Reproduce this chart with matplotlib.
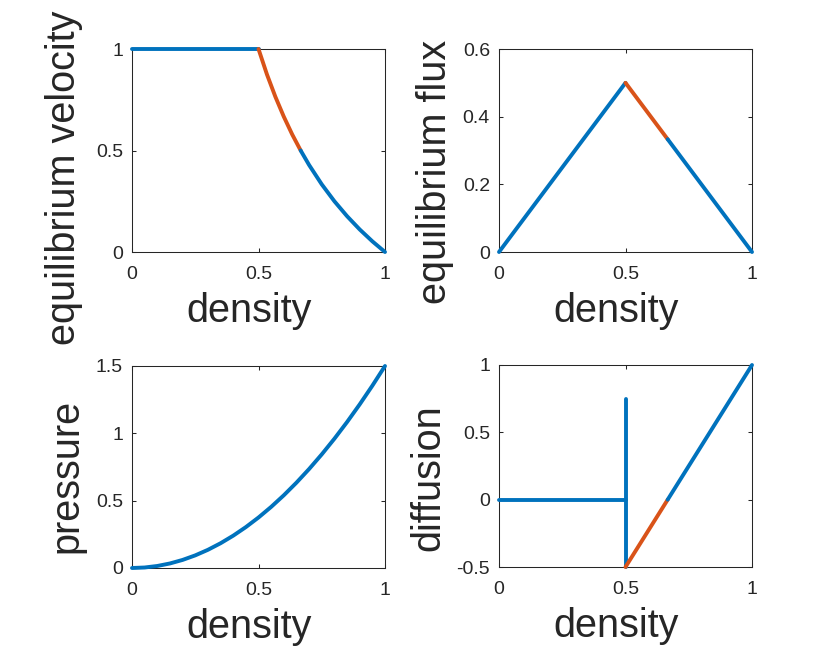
import matplotlib
matplotlib.use("Agg")
import matplotlib.pyplot as plt

plt.rcParams['font.family'] = ['Liberation Sans', 'DejaVu Sans']

BLUE = '#0072BD'
ORANGE = '#D95319'
DARK = '#262626'

# ---- data ----
vel_flat_x = [0.0, 0.5]
vel_flat_y = [1.0, 1.0]
vel_orange_x = [0.5, 0.5333, 0.5667, 0.6, 0.6333, 0.6667]
vel_orange_y = [1.0, 0.875, 0.7647, 0.6667, 0.5789, 0.5]
vel_tail_x = [0.6667, 0.7, 0.75, 0.8, 0.85, 0.9, 0.95, 1.0]
vel_tail_y = [0.5, 0.4286, 0.3333, 0.25, 0.1765, 0.1111, 0.0526, 0.0]

flux_up_x = [0.0, 0.5]
flux_up_y = [0.0, 0.5]
flux_orange_x = [0.5, 0.6667]
flux_orange_y = [0.5, 0.3333]
flux_down_x = [0.6667, 1.0]
flux_down_y = [0.3333, 0.0]

pres_x = [0.0, 0.05, 0.1, 0.15, 0.2, 0.25, 0.3, 0.35, 0.4, 0.45, 0.5,
          0.55, 0.6, 0.65, 0.7, 0.75, 0.8, 0.85, 0.9, 0.95, 1.0]
pres_y = [0.0, 0.00375, 0.015, 0.03375, 0.06, 0.09375, 0.135, 0.18375, 0.24,
          0.30375, 0.375, 0.45375, 0.54, 0.63375, 0.735, 0.84375, 0.96,
          1.08375, 1.215, 1.35375, 1.5]

diff_flat_x = [0.0, 0.5]
diff_flat_y = [0.0, 0.0]
diff_vert_x = [0.5, 0.5]
diff_vert_y = [-0.5, 0.75]
diff_orange_x = [0.5, 0.6667]
diff_orange_y = [-0.5, 0.0]
diff_up_x = [0.6667, 1.0]
diff_up_y = [0.0, 1.0]

x_ticks = [0, 0.5, 1]
x_ticklabels = ['0', '0.5', '1']
vel_ticks = [0, 0.5, 1]
vel_ticklabels = ['0', '0.5', '1']
flux_ticks = [0, 0.2, 0.4, 0.6]
flux_ticklabels = ['0', '0.2', '0.4', '0.6']
pres_ticks = [0, 0.5, 1, 1.5]
pres_ticklabels = ['0', '0.5', '1', '1.5']
diff_ticks = [-0.5, 0, 0.5, 1]
diff_ticklabels = ['-0.5', '0', '0.5', '1']

fig = plt.figure(figsize=(8.3, 6.64), dpi=100)
W, H = 830, 664

def make_ax(x0, y0, x1, y1):
    return fig.add_axes([x0 / W, 1 - y1 / H, (x1 - x0) / W, (y1 - y0) / H])

ax_v = make_ax(132, 49, 385, 252)
ax_f = make_ax(499, 49, 752, 252)
ax_p = make_ax(132, 366, 385, 568)
ax_d = make_ax(499, 365, 752, 567)

LW = 2.8
def line(ax, x, y, c):
    ax.plot(x, y, color=c, lw=LW, clip_on=False, solid_capstyle='round', zorder=3)

line(ax_v, vel_flat_x, vel_flat_y, BLUE)
line(ax_v, vel_orange_x, vel_orange_y, ORANGE)
line(ax_v, vel_tail_x, vel_tail_y, BLUE)

line(ax_f, flux_up_x, flux_up_y, BLUE)
line(ax_f, flux_orange_x, flux_orange_y, ORANGE)
line(ax_f, flux_down_x, flux_down_y, BLUE)

line(ax_p, pres_x, pres_y, BLUE)

line(ax_d, diff_flat_x, diff_flat_y, BLUE)
line(ax_d, diff_vert_x, diff_vert_y, BLUE)
line(ax_d, diff_orange_x, diff_orange_y, ORANGE)
line(ax_d, diff_up_x, diff_up_y, BLUE)

specs = [
    (ax_v, (0, 1), vel_ticks, vel_ticklabels, 'equilibrium velocity', (-0.269, 0.365)),
    (ax_f, (0, 0.6), flux_ticks, flux_ticklabels, 'equilibrium flux', (-0.253, 0.394)),
    (ax_p, (0, 1.5), pres_ticks, pres_ticklabels, 'pressure', (-0.257, 0.455)),
    (ax_d, (-0.5, 1), diff_ticks, diff_ticklabels, 'diffusion', (-0.281, 0.44)),
]

for ax, ylim, yt, ytl, ylab, lc in specs:
    ax.set_xlim(0, 1)
    ax.set_ylim(*ylim)
    ax.set_xticks(x_ticks)
    ax.set_xticklabels(x_ticklabels)
    ax.set_yticks(yt)
    ax.set_yticklabels(ytl)
    for s in ax.spines.values():
        s.set_color(DARK)
        s.set_linewidth(0.75)
    ax.tick_params(direction='in', length=3, width=0.75, color=DARK,
                   labelcolor=DARK, labelsize=14, top=True, right=True)
    ax.tick_params(axis='x', pad=10)
    ax.tick_params(axis='y', pad=6.5)
    ax.set_ylabel(ylab, fontsize=28.5, color=DARK, va='center')
    ax.yaxis.set_label_coords(*lc)
    ax.set_xlabel('density', fontsize=28.5, color=DARK, va='center')
    ax.xaxis.set_label_coords(0.464, -0.29)

fig.savefig('out.png', dpi=100, facecolor='white')
